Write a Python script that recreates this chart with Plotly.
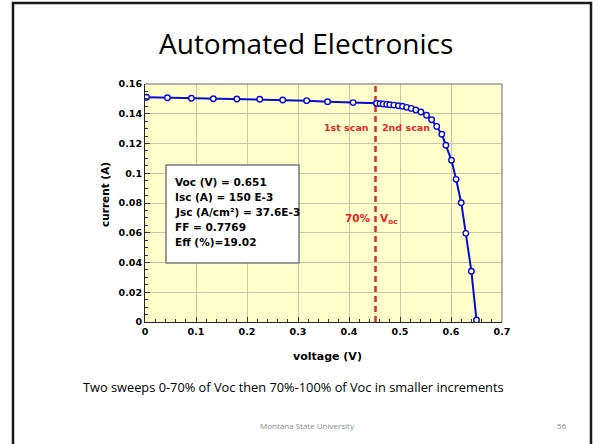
import plotly.graph_objects as go

# ---------------- data ----------------
first_scan_v = [0.003, 0.044, 0.091, 0.134, 0.180, 0.225, 0.270, 0.317, 0.358, 0.408, 0.454]
first_scan_i = [0.1511, 0.1508, 0.1504, 0.1501, 0.1499, 0.1497, 0.1492, 0.1488, 0.1481, 0.1475, 0.1470]

second_scan_v = [0.454, 0.461, 0.467, 0.474, 0.480, 0.488, 0.497, 0.505, 0.513, 0.522, 0.531, 0.541,
                 0.552, 0.562, 0.572, 0.582, 0.590, 0.601, 0.610, 0.620, 0.629, 0.640, 0.650]
second_scan_i = [0.1470, 0.1468, 0.1466, 0.1463, 0.1461, 0.1458, 0.1454, 0.1450, 0.1443, 0.1436, 0.1425, 0.1412,
                 0.1390, 0.1360, 0.1315, 0.1262, 0.1188, 0.1087, 0.0959, 0.0802, 0.0596, 0.0341, 0.0013]

split_v = 0.452  # 70% of Voc marker, as drawn

x_ticks = [0, 0.1, 0.2, 0.3, 0.4, 0.5, 0.6, 0.7]
x_tick_text = ["0", "0.1", "0.2", "0.3", "0.4", "0.5", "0.6", "0.7"]
y_ticks = [0, 0.02, 0.04, 0.06, 0.08, 0.1, 0.12, 0.14, 0.16]
y_tick_text = ["0", "0.02", "0.04", "0.06", "0.08", "0.1", "0.12", "0.14", "0.16"]

stats_lines = ["Voc (V) = 0.651", "Isc (A) = 150 E-3", "Jsc (A/cm²) = 37.6E-3", "FF = 0.7769", "Eff (%)=19.02"]

title_text = "Automated Electronics"
caption_text = "Two sweeps 0-70% of Voc then 70%-100% of Voc in smaller increments"
footer_text = "Montana State University"
page_text = "56"

# ---------------- layout geometry ----------------
W, H = 602, 444
L, R, T, B = 145, 502, 84, 322


def px_x(p):
    return (p - L) / (R - L)


def px_y(p):
    return (B - p) / (B - T)


BLUE = "#0a0ad0"
RED = "#e8262a"
CHART_FONT = "DejaVu Sans"
SLIDE_FONT = "Open Sans"

fig = go.Figure()

# dashed 70% Voc line
fig.add_trace(go.Scatter(
    x=[split_v, split_v], y=[0, 0.16], mode="lines",
    line=dict(color=RED, width=2.5, dash="6px,4px"),
    hoverinfo="skip", showlegend=False,
))

for vx, iy in ((first_scan_v, first_scan_i), (second_scan_v, second_scan_i)):
    fig.add_trace(go.Scatter(
        x=vx, y=iy, mode="lines+markers",
        line=dict(color=BLUE, width=2),
        marker=dict(size=5.5, color="white", line=dict(color=BLUE, width=1.4)),
        showlegend=False,
    ))

axis_common = dict(
    showgrid=True, gridcolor="#c9c6a6", gridwidth=1,
    showline=True, linecolor="#222222", linewidth=1.2,
    ticks="inside", ticklen=5, tickcolor="#333333", tickwidth=1,
    tickfont=dict(family=CHART_FONT, size=9.5, color="black", weight="bold"),
    zeroline=False, fixedrange=True,
)

fig.update_xaxes(range=[0, 0.7], tickvals=x_ticks, ticktext=x_tick_text,
                 minor=dict(dtick=0.02, ticks="inside", ticklen=3, tickcolor="#333333", showgrid=False),
                 **axis_common)
fig.update_yaxes(range=[0, 0.16], tickvals=y_ticks, ticktext=y_tick_text,
                 minor=dict(dtick=0.005, ticks="inside", ticklen=3, tickcolor="#333333", showgrid=False),
                 **axis_common)

shapes = [
    # top and right frame of the plot area (grey)
    dict(type="line", xref="paper", yref="paper", x0=0, x1=1, y0=1, y1=1, line=dict(color="#9a9a90", width=1.5)),
    dict(type="line", xref="paper", yref="paper", x0=1, x1=1, y0=0, y1=1, line=dict(color="#9a9a90", width=1.5)),
    # stats box
    dict(type="rect", xref="paper", yref="paper", x0=px_x(166), x1=px_x(299), y0=px_y(263), y1=px_y(165),
         fillcolor="white", line=dict(color="#7a7a7a", width=1.5)),
    # slide frame
    dict(type="rect", xref="paper", yref="paper", x0=px_x(13), x1=px_x(591), y0=px_y(470), y1=px_y(3),
         line=dict(color="#1a1a1a", width=2.5), layer="below"),
]

ann = []
for k, line in enumerate(stats_lines):
    ann.append(dict(xref="paper", yref="paper", x=px_x(173), y=px_y(181.7 + 15 * k), text=line,
                    xanchor="left", yanchor="middle", showarrow=False,
                    font=dict(family=CHART_FONT, size=10.5, color="black", weight="bold")))

red_font = dict(family=CHART_FONT, size=9.5, color=RED, weight="bold")
ann += [
    dict(xref="paper", yref="paper", x=px_x(371), y=px_y(127), text="1st scan", xanchor="right",
         yanchor="middle", showarrow=False, font=red_font),
    dict(xref="paper", yref="paper", x=px_x(380), y=px_y(127), text="2nd scan", xanchor="left",
         yanchor="middle", showarrow=False, font=red_font),
    dict(xref="paper", yref="paper", x=px_x(373), y=px_y(218), text="70%", xanchor="right",
         yanchor="middle", showarrow=False, font=dict(family=CHART_FONT, size=10.5, color=RED, weight="bold")),
    dict(xref="paper", yref="paper", x=px_x(378), y=px_y(219), text="V<sub>oc</sub>", xanchor="left",
         yanchor="middle", showarrow=False, font=dict(family=CHART_FONT, size=10.5, color=RED, weight="bold")),
    # axis titles
    dict(xref="paper", yref="paper", x=px_x(105), y=px_y(195), text="current (A)", textangle=-90,
         xanchor="center", yanchor="middle", showarrow=False,
         font=dict(family=CHART_FONT, size=10.5, color="black", weight="bold")),
    dict(xref="paper", yref="paper", x=px_x(327), y=px_y(356), text="voltage (V)",
         xanchor="center", yanchor="middle", showarrow=False,
         font=dict(family=CHART_FONT, size=11, color="black", weight="bold")),
    # slide texts
    dict(xref="paper", yref="paper", x=px_x(306), y=px_y(43), text=title_text,
         xanchor="center", yanchor="middle", showarrow=False,
         font=dict(family=SLIDE_FONT, size=28, color="black")),
    dict(xref="paper", yref="paper", x=px_x(293), y=px_y(387), text=caption_text,
         xanchor="center", yanchor="middle", showarrow=False,
         font=dict(family=SLIDE_FONT, size=12.8, color="black")),
    dict(xref="paper", yref="paper", x=px_x(307), y=px_y(425), text=footer_text,
         xanchor="center", yanchor="middle", showarrow=False,
         font=dict(family=SLIDE_FONT, size=8, color="#8a8a8a")),
    dict(xref="paper", yref="paper", x=px_x(562), y=px_y(425), text=page_text,
         xanchor="center", yanchor="middle", showarrow=False,
         font=dict(family=SLIDE_FONT, size=8, color="#8a8a8a")),
]

fig.update_layout(
    width=W, height=H,
    margin=dict(l=L, r=W - R, t=T, b=H - B, pad=0),
    paper_bgcolor="white", plot_bgcolor="#ffffcc",
    shapes=shapes, annotations=ann, showlegend=False,
)

fig.write_html("out.html", config={"displayModeBar": False},
               post_script="document.body.style.margin='0px';document.body.style.overflow='hidden';")
